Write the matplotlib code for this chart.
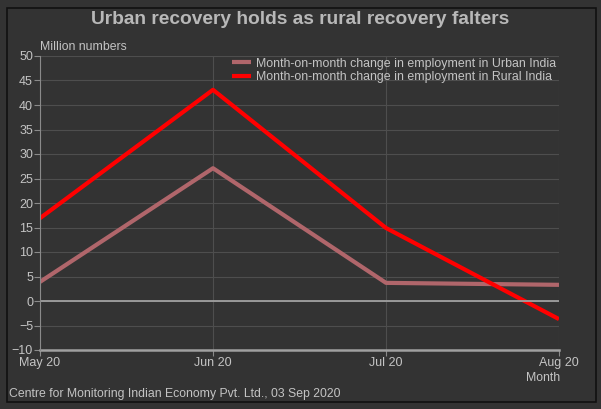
import matplotlib.pyplot as plt
from matplotlib.patches import Rectangle

plt.rcParams['font.family'] = ['Liberation Sans', 'DejaVu Sans']

months = ['May 20', 'Jun 20', 'Jul 20', 'Aug 20']
urban = [3.9, 27.1, 3.7, 3.3]
rural = [16.9, 43.1, 14.9, -3.7]
yticks = list(range(-10, 55, 5))

BG = '#333333'
TXT = '#c4c4c4'
GRID = '#4e4e4e'

fig = plt.figure(figsize=(6.01, 4.09), dpi=100)
fig.patch.set_facecolor(BG)

# black frame around the chart
fig.patches.append(Rectangle((7 / 601, 7 / 409), 589 / 601, 394 / 409,
                             transform=fig.transFigure, fill=False,
                             edgecolor='#111111', linewidth=1.2))

ax = fig.add_axes([40 / 601, 59 / 409, 519 / 601, 294 / 409])
ax.set_facecolor(BG)

x = list(range(len(months)))
ax.plot(x, urban, color='#b0666b', linewidth=3,
        label='Month-on-month change in employment in Urban India', solid_capstyle='butt')
ax.plot(x, rural, color='#ff0000', linewidth=3,
        label='Month-on-month change in employment in Rural India', solid_capstyle='butt')

ax.set_xlim(0, 3)
ax.set_ylim(-10, 50)
ax.set_xticks(x)
ax.set_xticklabels(months)
ax.set_yticks(yticks)
ax.grid(True, color=GRID, linewidth=0.8)
ax.axhline(0, color='#a0a0a0', linewidth=1.3)
ax.axhline(-10, color='#a0a0a0', linewidth=1.8, clip_on=False)

for s in ['top', 'right', 'bottom']:
    ax.spines[s].set_visible(False)
ax.spines['left'].set_color('#8a8a8a')
ax.tick_params(colors='#8a8a8a', labelcolor=TXT, labelsize=9, length=4)
ax.tick_params(axis='y', pad=1)
ax.tick_params(axis='x', pad=1)

leg = ax.legend(loc='upper right', bbox_to_anchor=(1.0, 1.003), frameon=False,
                fontsize=8.9, handlelength=1.6, handletextpad=0.4,
                labelspacing=0.15, borderaxespad=0.0, borderpad=0.2)
for t in leg.get_texts():
    t.set_color(TXT)

fig.text(0.5, 1 - 20 / 409, 'Urban recovery holds as rural recovery falters',
         ha='center', va='center', fontsize=13.8, fontweight='bold', color='#b8b8b8')
fig.text(40 / 601, 1 - 47 / 409, 'Million numbers', ha='left', va='center',
         fontsize=8.8, color=TXT)
fig.text(560 / 601, 1 - 378 / 409, 'Month', ha='right', va='center',
         fontsize=8.8, color=TXT)
fig.text(9 / 601, 1 - 394 / 409, 'Centre for Monitoring Indian Economy Pvt. Ltd., 03 Sep 2020',
         ha='left', va='center', fontsize=8.8, color=TXT)

fig.savefig('out.png', dpi=100, facecolor=BG)
